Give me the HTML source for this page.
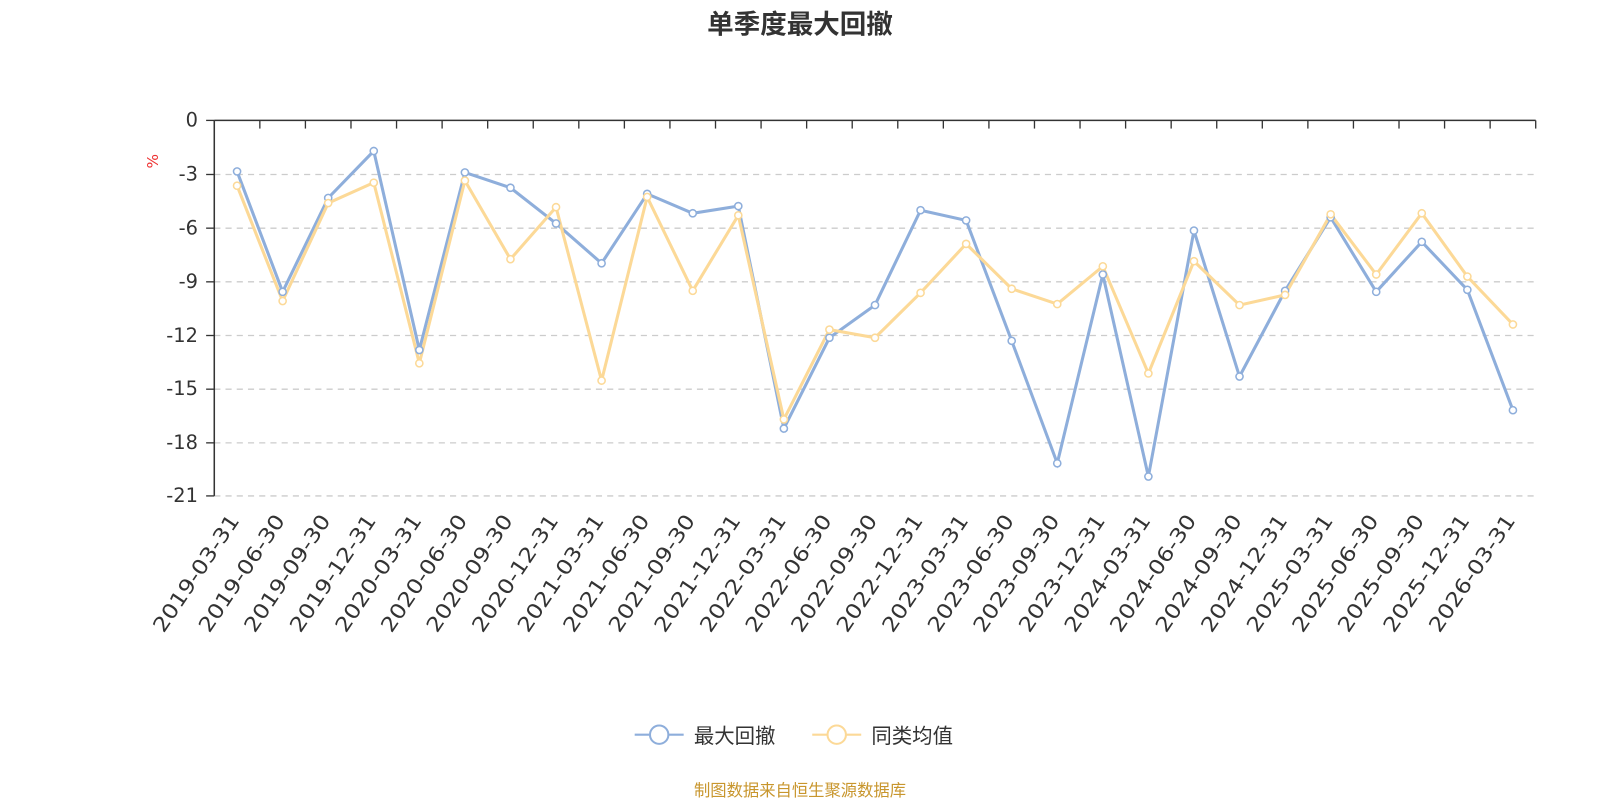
<!DOCTYPE html>
<html><head><meta charset="utf-8"><style>
body{margin:0;background:#fff;}
svg{font-family:"DejaVu Sans","Noto Sans CJK SC",sans-serif;}
</style></head><body>
<svg width="1600" height="800" viewBox="0 0 1600 800" xmlns="http://www.w3.org/2000/svg">
<g transform="scale(1.0204)">
<text x="784" y="33" text-anchor="middle" font-size="26" font-weight="bold" fill="#333" font-family="Liberation Sans,Noto Sans CJK SC,sans-serif">单季度最大回撤</text>
<g stroke="#ccc" stroke-dasharray="6,5" stroke-width="1.3">
<line x1="210" y1="171" x2="1505" y2="171"/><line x1="210" y1="223.6" x2="1505" y2="223.6"/>
<line x1="210" y1="276.2" x2="1505" y2="276.2"/><line x1="210" y1="328.8" x2="1505" y2="328.8"/>
<line x1="210" y1="381.4" x2="1505" y2="381.4"/><line x1="210" y1="434" x2="1505" y2="434"/>
<line x1="210" y1="486" x2="1505" y2="486"/>
</g>
<line x1="210" y1="118" x2="1505" y2="118" stroke="#333" stroke-width="1.5"/>
<line x1="210" y1="118" x2="210" y2="486" stroke="#333" stroke-width="1.5"/>
<g stroke="#333" stroke-width="1.3">
<line x1="202" y1="118" x2="210" y2="118"/><line x1="202" y1="171" x2="210" y2="171"/><line x1="202" y1="223.6" x2="210" y2="223.6"/><line x1="202" y1="276.2" x2="210" y2="276.2"/><line x1="202" y1="328.8" x2="210" y2="328.8"/><line x1="202" y1="381.4" x2="210" y2="381.4"/><line x1="202" y1="434" x2="210" y2="434"/><line x1="202" y1="486" x2="210" y2="486"/>
</g>
<g font-size="19" fill="#333" text-anchor="end">
<text x="194" y="124">0</text><text x="194" y="177">-3</text><text x="194" y="230">-6</text><text x="194" y="282">-9</text><text x="194" y="335">-12</text><text x="194" y="387">-15</text><text x="194" y="440">-18</text><text x="194" y="492">-21</text>
</g>
<text x="155" y="158" font-size="15" fill="#e33" transform="rotate(-90 155 158)" text-anchor="middle">%</text>
<g id="xt" stroke="#333" stroke-width="1.3"></g>
<g id="xl" font-size="20" fill="#333" text-anchor="end"></g>
<polyline id="pb" fill="none" stroke="#8eaedb" stroke-width="3"/>
<polyline id="py" fill="none" stroke="#fcd997" stroke-width="3"/>
<g id="cb"></g><g id="cy"></g>
<line x1="622" y1="720" x2="670" y2="720" stroke="#8eaedb" stroke-width="2"/>
<circle cx="646" cy="720" r="9" fill="#fff" stroke="#8eaedb" stroke-width="2"/>
<text x="680" y="728" font-size="20" fill="#333">最大回撤</text>
<line x1="796" y1="720" x2="844" y2="720" stroke="#fcd997" stroke-width="2"/>
<circle cx="820" cy="720" r="9" fill="#fff" stroke="#fcd997" stroke-width="2"/>
<text x="854" y="728" font-size="20" fill="#333">同类均值</text>
<text x="784" y="780" text-anchor="middle" font-size="16" fill="#c8962d">制图数据来自恒生聚源数据库</text>
</g>
</svg>
<script>
var labels=["2019-03-31","2019-06-30","2019-09-30","2019-12-31","2020-03-31","2020-06-30","2020-09-30","2020-12-31","2021-03-31","2021-06-30","2021-09-30","2021-12-31","2022-03-31","2022-06-30","2022-09-30","2022-12-31","2023-03-31","2023-06-30","2023-09-30","2023-12-31","2024-03-31","2024-06-30","2024-09-30","2024-12-31","2025-03-31","2025-06-30","2025-09-30","2025-12-31","2026-03-31"];
var b=[168,286,194,148,343,169,184,219,258,190,209,202,420,331,299,206,216,334,454,269,467,226,369,285,213,286,237,284,402];
var y=[182,295,199,179,356,177,254,203,373,193,285,211,411,323,331,287,239,283,298,261,366,256,299,289,210,269,209,271,318];
var NS="http://www.w3.org/2000/svg",w=1295/29;
function el(t,a,p){var e=document.createElementNS(NS,t);for(var k in a)e.setAttribute(k,a[k]);document.getElementById(p).appendChild(e);return e;}
for(var i=0;i<=29;i++){var x=210+i*w;el("line",{x1:x,y1:118,x2:x,y2:126},"xt");}
var pb=[],py=[];
for(var i=0;i<29;i++){var x=210+w*(i+0.5);pb.push(x+","+b[i]);py.push(x+","+y[i]);
var ax=x+3,ay=510;
var t=el("text",{x:ax,y:ay,textLength:134,lengthAdjust:"spacingAndGlyphs",transform:"rotate(-56 "+ax+" "+ay+")"},"xl");t.textContent=labels[i];}
document.getElementById("pb").setAttribute("points",pb.join(" "));
document.getElementById("py").setAttribute("points",py.join(" "));
for(var i=0;i<29;i++){var x=210+w*(i+0.5);
el("circle",{cx:x,cy:b[i],r:3.5,fill:"#fff",stroke:"#8eaedb","stroke-width":1.5},"cb");
el("circle",{cx:x,cy:y[i],r:3.5,fill:"#fff",stroke:"#fcd997","stroke-width":1.5},"cy");}
</script>
</body></html>
